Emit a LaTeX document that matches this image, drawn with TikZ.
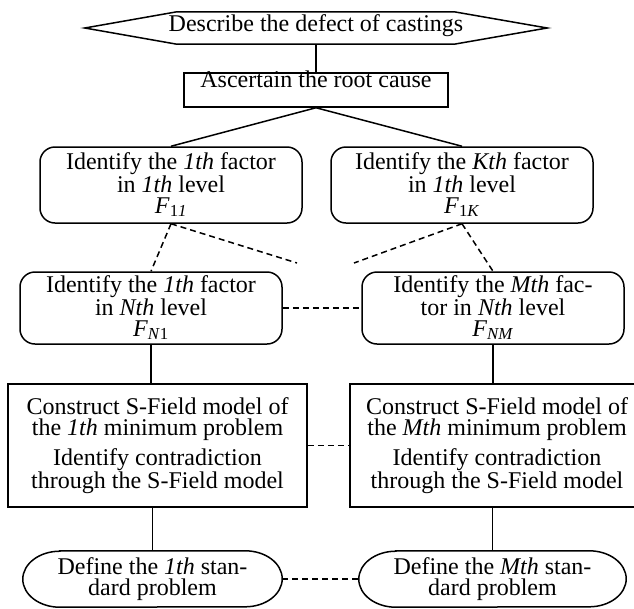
\documentclass[tikz,border=0pt]{standalone}
\usepackage{fontspec}
\setmainfont{Liberation Serif}
\newcommand\Fsub[1]{\textit{F}\textsubscript{#1}}
\begin{document}
\begin{tikzpicture}[x=1pt,y=-1pt,
  txt/.style={font=\fontsize{24}{20.5}\selectfont, inner sep=0pt},
  mtxt/.style={txt, align=center},
  rbox/.style={mtxt, draw, line width=1.5pt, rounded corners=15pt, minimum width=262pt, minimum height=76pt},
  sbox/.style={mtxt, draw, line width=1.5pt, minimum height=123pt},
  term/.style={mtxt, minimum width=259pt, minimum height=56pt},
  link/.style={line width=1.5pt},
  dlink/.style={line width=1.5pt, dash pattern=on 6pt off 4pt},
  outline/.style={line width=1.5pt}]
\useasboundingbox (0,0) rectangle (634,608);
\clip (0,0) rectangle (634,608);
% top
\node[txt, minimum width=462pt, minimum height=32pt, text height=19pt, text depth=13pt] (hex) at (316,28) {Describe the defect of castings};
\draw[outline] (hex.west) -- ([xshift=92pt]hex.north west) -- ([xshift=-93pt]hex.north east) -- (hex.east) -- ([xshift=-93pt]hex.south east) -- ([xshift=92pt]hex.south west) -- cycle;
\node[txt, draw, line width=1.5pt, minimum width=264pt, minimum height=34pt, text height=14pt, text depth=20pt] (rect) at (316,90) {Ascertain the root cause};
% level 1
\node[rbox] (b1) at (171,185) {Identify the \textit{1th} factor\\in \textit{1th} level\\\Fsub{1\textit{1}}};
\node[rbox] (b2) at (462,185) {Identify the \textit{Kth} factor\\in \textit{1th} level\\\Fsub{1\textit{K}}};
% level N
\node[rbox, minimum height=72pt] (b3) at (151,308) {Identify the \textit{1th} factor\\in \textit{Nth} level\\\Fsub{\textit{N}1}};
\node[rbox, minimum height=72pt] (b4) at (493,308) {Identify the \textit{Mth} fac-\\tor in \textit{Nth} level\\\Fsub{\textit{NM}}};
% S-Field boxes
\node[sbox, minimum width=299pt] (b5) at (157.5,445.5) {Construct S-Field model of\\the \textit{1th} minimum problem\\[7pt]Identify contradiction\\through the S-Field model};
\node[sbox, minimum width=294pt] (b6) at (497,445.5) {Construct S-Field model of\\the \textit{Mth} minimum problem\\[7pt]Identify contradiction\\through the S-Field model};
% terminals
\node[term] (e1) at (152.5,579) {Define the \textit{1th} stan-\\dard problem};
\node[term, minimum width=267pt] (e2) at (492.5,579) {Define the \textit{Mth} stan-\\dard problem};
\foreach \e in {e1,e2}{
  \draw[outline] ([xshift=37pt]\e.north west) -- ([xshift=-37pt]\e.north east)
    arc[start angle=90, end angle=-90, x radius=37pt, y radius=28pt]
    -- ([xshift=37pt]\e.south west)
    arc[start angle=270, end angle=90, x radius=37pt, y radius=28pt] -- cycle;
}
% coordinates for open dashed ends
\coordinate (m1) at (297,263);
\coordinate (m2) at (354,263);
% connectors
\draw[link] (hex.south) -- (rect.north);
\draw[link] (rect.south) -- (b1.north);
\draw[link] (rect.south) -- (b2.north);
\draw[dlink] (b1.south) -- (b3.north);
\draw[dlink] (b1.south) -- (m1);
\draw[dlink] (b2.south) -- (m2);
\draw[dlink] (b2.south) -- (b4.north);
\draw[dlink] (b3.east) -- (b4.west);
\draw[link] (b3.south) -- (b3.south |- b5.north);
\draw[link] (b4.south) -- (b4.south |- b6.north);
\draw[dlink] (b5.east) -- (b5.east -| b6.west);
\draw[link] (e1.north |- b5.south) -- (e1.north);
\draw[link] (e2.north |- b6.south) -- (e2.north);
\draw[dlink] (e1.east) -- (e2.west);
\end{tikzpicture}
\end{document}
